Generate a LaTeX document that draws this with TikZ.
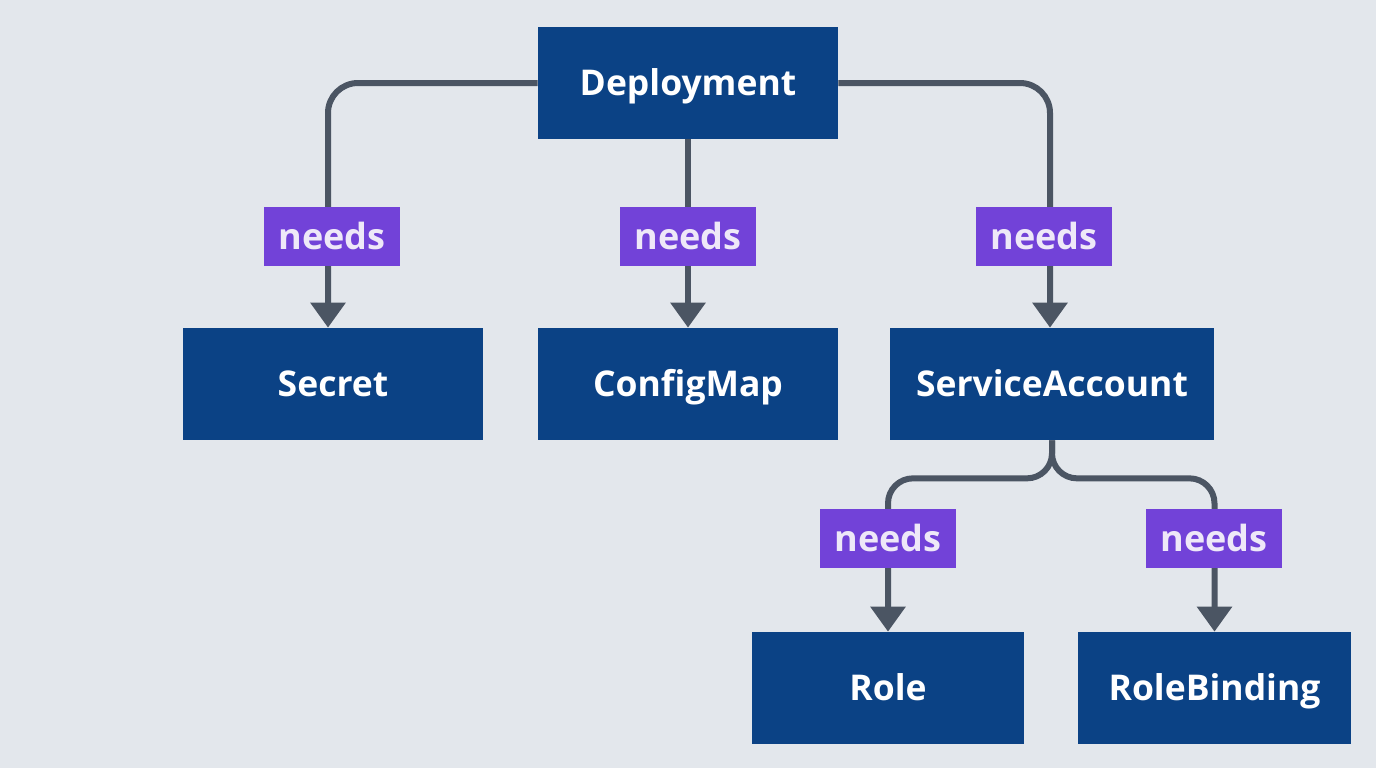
\documentclass[tikz,border=0pt]{standalone}
\usepackage{fontspec}
\setmainfont{Open Sans}
\usetikzlibrary{arrows.meta}
\definecolor{bgc}{HTML}{E3E7EC}
\definecolor{boxc}{HTML}{0B4285}
\definecolor{lblc}{HTML}{7242D8}
\definecolor{linec}{HTML}{4B5563}
\definecolor{lbltxt}{HTML}{EEE8F8}
\tikzset{
  res/.style={fill=boxc, text=white, minimum height=2.24cm, inner sep=0pt,
    text height=0.64cm, text depth=0.14cm,
    font=\fontsize{20.2}{23}\selectfont\bfseries},
  lbl/.style={fill=lblc, text=lbltxt, minimum width=2.72cm, minimum height=1.18cm, inner sep=0pt,
    text height=0.56cm, text depth=0.02cm,
    font=\fontsize{20.5}{23}\selectfont\bfseries},
  conn/.style={draw=linec, line width=0.12cm, rounded corners=0.6cm,
    -{Triangle[width=0.68cm,length=0.5cm]}}
}
\begin{document}
\begin{tikzpicture}[x=0.02cm,y=-0.02cm]
\fill[bgc] (0,0) rectangle (1376,768);
\useasboundingbox (0,0) rectangle (1376,768);
\node[res, minimum width=6cm] (dep) at (688,83) {Deployment};
\node[res, minimum width=6cm] (sec) at (333,384) {Secret};
\node[res, minimum width=6cm] (cm) at (688,384) {ConfigMap};
\node[res, minimum width=6.48cm] (sa) at (1052,384) {ServiceAccount};
\node[res, minimum width=5.44cm] (role) at (888,688) {Role};
\node[res, minimum width=5.46cm] (rb) at (1214.5,688) {RoleBinding};
\draw[conn] (dep.west) -| ([xshift=-0.1cm]sec.north);
\draw[conn] (dep.south) -- (cm.north);
\draw[conn] (dep.east) -| ([xshift=-0.04cm]sa.north);
\draw[conn, rounded corners=0.5cm] (sa.south) -- ++(0,38) -| (role.north);
\draw[conn, rounded corners=0.5cm] (sa.south) -- ++(0,38) -| (rb.north);
\node[lbl] (l1) at (332,236) {needs};
\node[lbl] (l2) at (688,236) {needs};
\node[lbl] (l3) at (1044,236) {needs};
\node[lbl] (l4) at (888,538) {needs};
\node[lbl] (l5) at (1214,538) {needs};
\end{tikzpicture}
\end{document}
